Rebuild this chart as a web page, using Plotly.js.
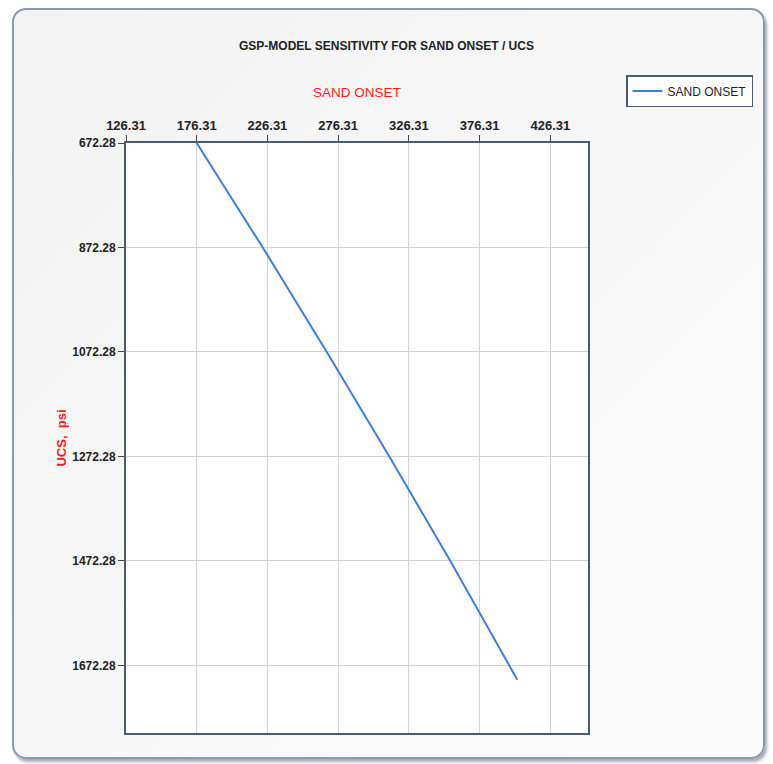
<!DOCTYPE html>
<html>
<head>
<meta charset="utf-8">
<script src="https://cdn.plot.ly/plotly-3.0.1.min.js"></script>
<style>
  html, body { margin:0; padding:0; background:#ffffff; }
  #wrap { position:relative; width:773px; height:764px; }
  #panel { position:absolute; left:12px; top:8px; width:753px; height:751px;
           border:2px solid #8c99ad; border-radius:14px;
           background: linear-gradient(135deg, #f3f3f3 0%, #f7f7f7 50%, #fbfbfb 100%);
           box-shadow: 2px 3px 3px rgba(60,70,90,0.45); box-sizing:border-box; }
  #chart { position:absolute; left:0; top:0; width:773px; height:764px; }
</style>
</head>
<body>
<div id="wrap">
  <div id="panel"></div>
  <div id="chart"></div>
</div>
<script>
// Data
const sandOnset = [176.31, 222.99, 268.25, 312.45, 355.59, 397.46, 402.9];
const ucs       = [672.28, 872.28, 1072.28, 1272.28, 1472.28, 1672.28, 1699.6];
const xTicks = [126.31, 176.31, 226.31, 276.31, 326.31, 376.31, 426.31];
const yTicks = [672.28, 872.28, 1072.28, 1272.28, 1472.28, 1672.28];
const seriesName = 'SAND ONSET';

const fontFam = '"Liberation Sans Narrow", "Liberation Sans", Arial, sans-serif';

const trace = {
  x: sandOnset, y: ucs, type: 'scatter', mode: 'lines', name: seriesName,
  line: { color: '#3f7fdc', width: 2 }
};

const layout = {
  width: 773, height: 764,
  paper_bgcolor: 'rgba(0,0,0,0)',
  plot_bgcolor: '#ffffff',
  margin: { l: 126, r: 185, t: 143, b: 31 },
  showlegend: true,
  title: {
    text: 'GSP-MODEL SENSITIVITY FOR SAND ONSET / UCS',
    x: 0.5, xanchor: 'center', y: 1 - 46/764, yanchor: 'middle',
    font: { family: fontFam, size: 12, color: '#222222', weight: 'bold' }
  },
  xaxis: {
    side: 'top',
    range: [126.31, 452.9],
    tickvals: xTicks, ticktext: xTicks.map(v => v.toFixed(2)),
    ticks: 'outside', ticklen: 6, tickcolor: '#444', tickwidth: 1,
    tickfont: { family: fontFam, size: 13, color: '#222222', weight: 'bold' },
    showgrid: true, gridcolor: '#d4d4d4', gridwidth: 1,
    showline: true, linecolor: '#4e5a70', linewidth: 2, mirror: true,
    zeroline: false,
    title: { text: 'SAND ONSET', standoff: 17,
             font: { family: fontFam, size: 13.5, color: '#ff1a1a' } }
  },
  yaxis: {
    autorange: false,
    range: [1801.6, 672.28],
    tickvals: yTicks, ticktext: yTicks.map(v => v.toFixed(2)),
    ticks: 'outside', ticklen: 6, tickcolor: '#444', tickwidth: 1,
    tickfont: { family: fontFam, size: 12, color: '#222222', weight: 'bold' },
    showgrid: true, gridcolor: '#d4d4d4', gridwidth: 1,
    showline: true, linecolor: '#4e5a70', linewidth: 2, mirror: true,
    zeroline: false,
    title: { text: 'UCS,  psi', standoff: 3,
             font: { family: 'Liberation Sans, Arial, sans-serif', size: 13, color: '#ff1a1a', weight: 'bold' } }
  },
  legend: {
    xref: 'container', yref: 'container',
    x: 626/773, y: 1 - 75/764, xanchor: 'left', yanchor: 'top',
    bgcolor: '#ffffff', bordercolor: '#4e5a70', borderwidth: 1.5,
    font: { family: fontFam, size: 12, color: '#222222' }
  }
};

Plotly.newPlot('chart', [trace], layout, { displayModeBar: false, staticPlot: true });
</script>
</body>
</html>
